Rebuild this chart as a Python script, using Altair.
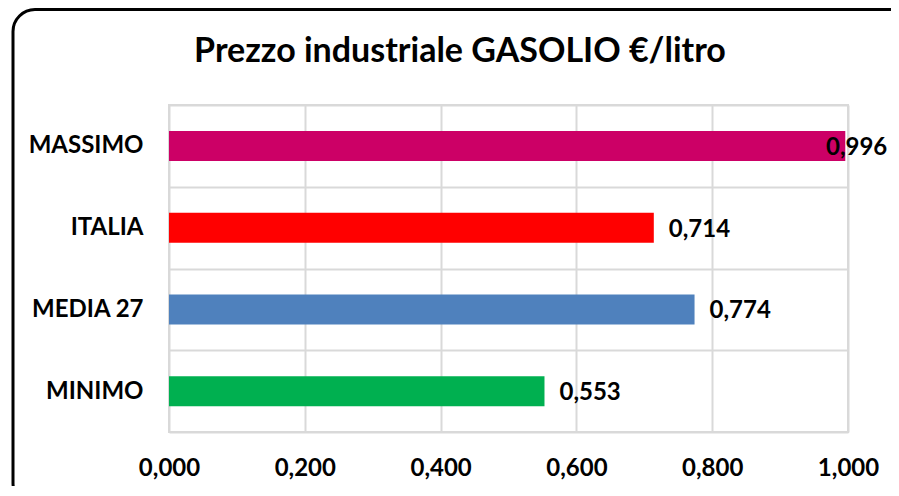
import altair as alt
import pandas as pd

categories = ["MASSIMO", "ITALIA", "MEDIA 27", "MINIMO"]
values = [0.996, 0.714, 0.774, 0.553]
bar_colors = ["#CC0066", "#FF0000", "#4F81BD", "#00B050"]
x_ticks = [0.0, 0.2, 0.4, 0.6, 0.8, 1.0]
title_text = "Prezzo industriale GASOLIO €/litro"

df = pd.DataFrame({"categoria": categories, "valore": values})

FONT = "Lato"
GRID = "#D9D9D9"
FS = 24

base = alt.Chart(df)

y_enc = alt.Y(
    "categoria:N",
    sort=categories,
    scale=alt.Scale(paddingInner=0, paddingOuter=0),
    axis=alt.Axis(
        title=None, domain=False, ticks=False, grid=True, tickBand="extent",
        gridColor=GRID, gridWidth=2, labelFont=FONT, labelFontWeight="bold",
        labelFontSize=FS, labelColor="black", labelPadding=26,
    ),
)
x_enc = alt.X(
    "valore:Q",
    scale=alt.Scale(domain=[0, 1], nice=False),
    axis=alt.Axis(
        title=None, domain=False, ticks=False, values=x_ticks, grid=True,
        gridColor=GRID, gridWidth=2, labelFont=FONT, labelFontWeight="bold",
        labelFontSize=FS, labelColor="black", labelPadding=24, labelFlush=False,
        labelExpr="replace(format(datum.value, '.3f'), '.', ',')",
    ),
)

bars = base.mark_bar(size=30).encode(
    y=y_enc,
    x=x_enc,
    color=alt.Color("categoria:N", scale=alt.Scale(domain=categories, range=bar_colors), legend=None),
)

lab = base.transform_calculate(
    etichetta="replace(format(datum.valore, '.3f'), '.', ',')"
)
text_out = lab.transform_filter("datum.valore < 0.95").mark_text(
    align="left", baseline="middle", dx=15, dy=2, font=FONT, fontWeight="bold",
    fontSize=FS, color="black",
).encode(y=alt.Y("categoria:N", sort=categories), x="valore:Q", text="etichetta:N")
text_in = lab.transform_filter("datum.valore >= 0.95").mark_text(
    align="right", baseline="middle", dx=42, dy=2, font=FONT, fontWeight="bold",
    fontSize=FS, color="black",
).encode(y=alt.Y("categoria:N", sort=categories), x="valore:Q", text="etichetta:N")

one = alt.Chart(pd.DataFrame({"t": [title_text]}))
title_mark = one.mark_text(
    align="center", baseline="alphabetic", font=FONT, fontWeight="bold",
    fontSize=34, color="black",
).encode(text="t:N", x=alt.value(291), y=alt.value(-43))

frame = one.mark_rect(
    fill=None, stroke="black", strokeWidth=3, cornerRadius=22, clip=False
).encode(
    x=alt.value(-156), x2=alt.value(760), y=alt.value(-95.5), y2=alt.value(400)
)

chart = alt.layer(bars, text_out, text_in, title_mark, frame).properties(
    width=679,
    height=327,
    autosize=alt.AutoSizeParams(type="none"),
    padding={"left": 161, "top": 97, "right": 43, "bottom": 54},
).configure_view(stroke=GRID, strokeWidth=2)

chart.save("out.html", embed_options={"renderer": "svg", "actions": False})
